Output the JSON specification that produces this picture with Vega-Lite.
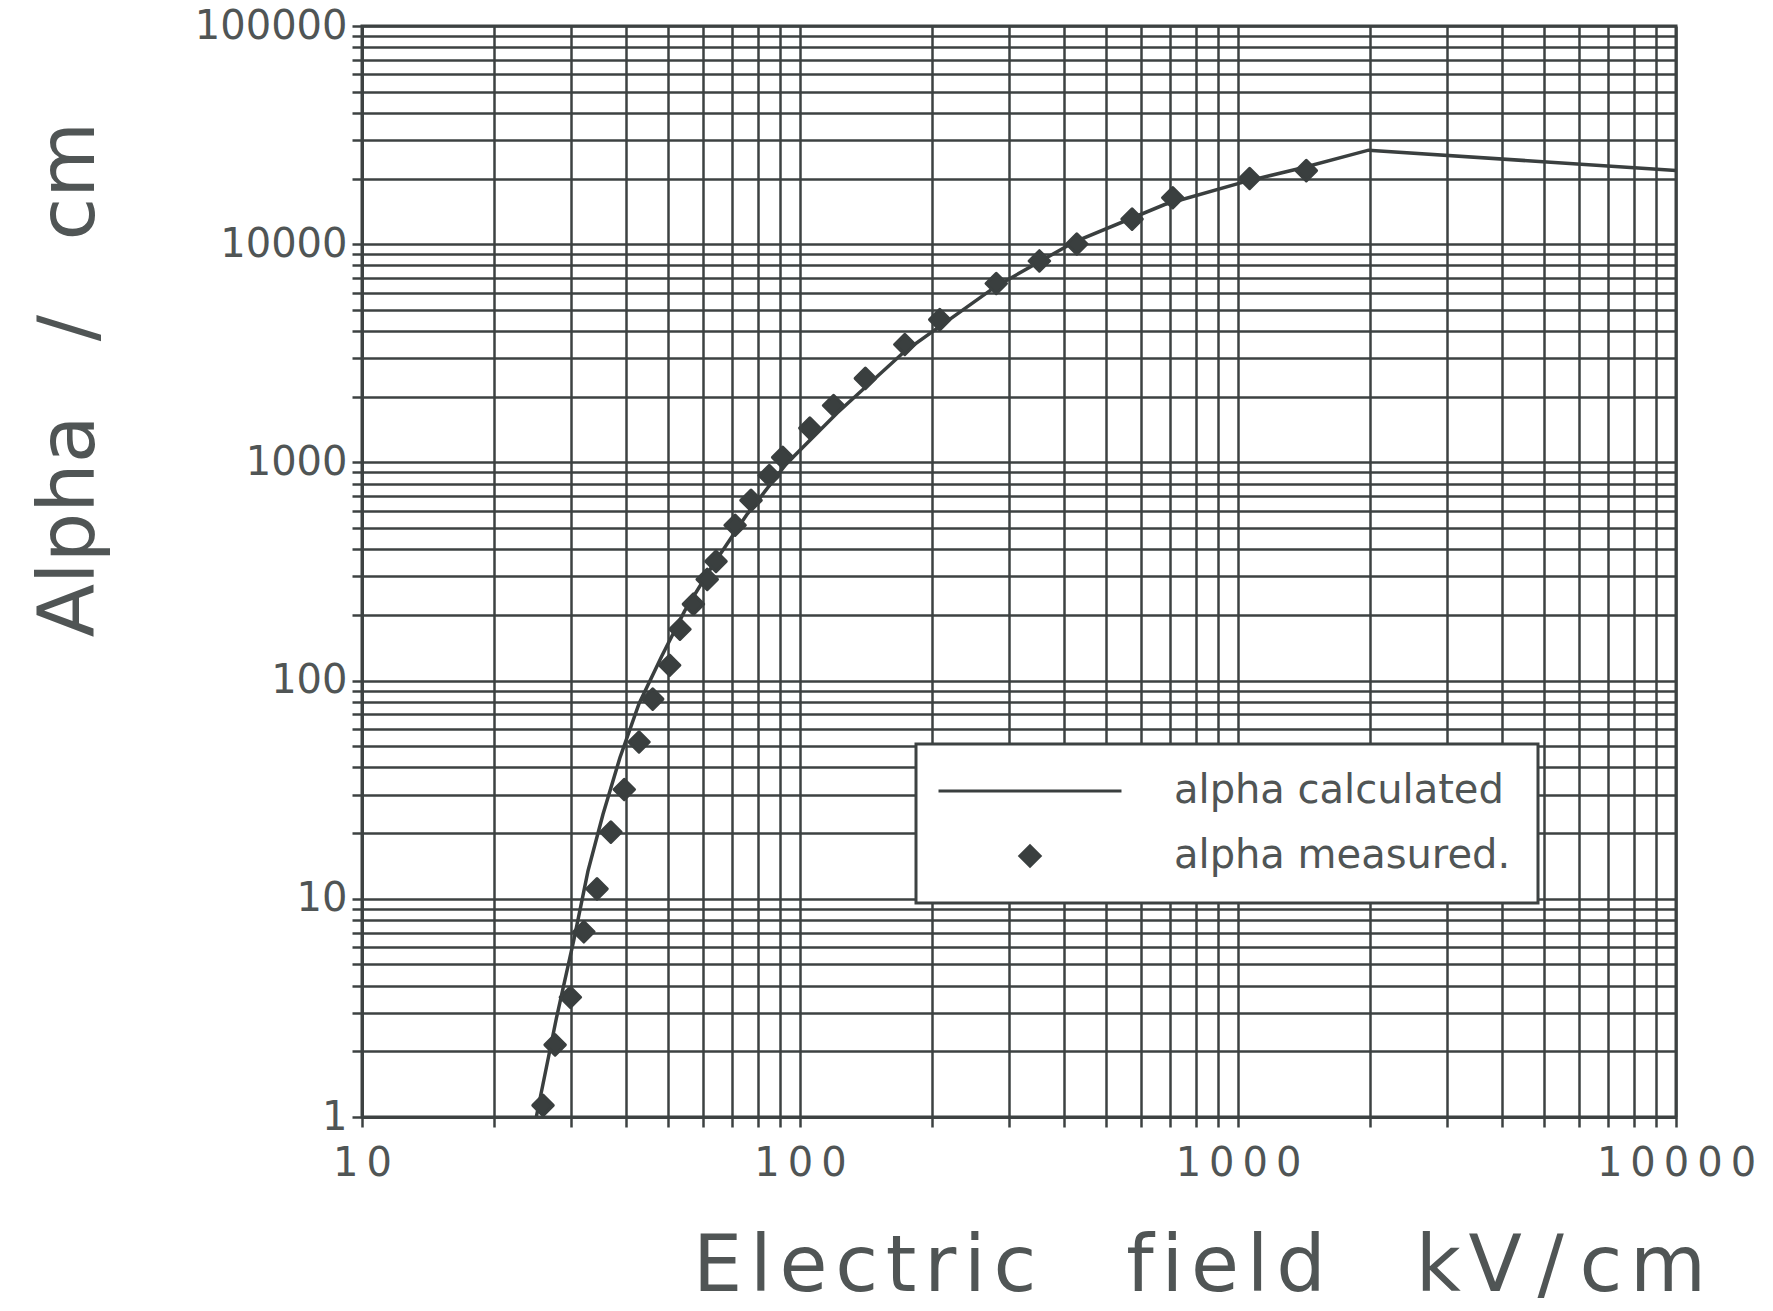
{
  "$schema": "https://vega.github.io/schema/vega-lite/v6.json",
  "width": 1314,
  "height": 1091,
  "autosize": {"type": "none"},
  "padding": {"left": 362, "top": 26, "right": 97, "bottom": 194},
  "background": "white",
  "config": {
    "view": {"stroke": "#3d4242", "strokeWidth": 3},
    "font": "DejaVu Sans",
    "legend": {"strokeWidth": 3}
  },
  "data": {
    "values": [
      {"series": "alpha calculated", "E": 25.0, "alpha": 1.0},
      {"series": "alpha calculated", "E": 27.8, "alpha": 2.85},
      {"series": "alpha calculated", "E": 30.5, "alpha": 6.57},
      {"series": "alpha calculated", "E": 32.8, "alpha": 13.4},
      {"series": "alpha calculated", "E": 35.5, "alpha": 24.4},
      {"series": "alpha calculated", "E": 38.8, "alpha": 44.3},
      {"series": "alpha calculated", "E": 42.9, "alpha": 78.4},
      {"series": "alpha calculated", "E": 48.3, "alpha": 129},
      {"series": "alpha calculated", "E": 54.5, "alpha": 208},
      {"series": "alpha calculated", "E": 63.1, "alpha": 336},
      {"series": "alpha calculated", "E": 75.5, "alpha": 574},
      {"series": "alpha calculated", "E": 92.9, "alpha": 981},
      {"series": "alpha calculated", "E": 121.4, "alpha": 1679},
      {"series": "alpha calculated", "E": 173.5, "alpha": 3230},
      {"series": "alpha calculated", "E": 279, "alpha": 6370},
      {"series": "alpha calculated", "E": 423.6, "alpha": 10260},
      {"series": "alpha calculated", "E": 680, "alpha": 15200},
      {"series": "alpha calculated", "E": 1033, "alpha": 19300},
      {"series": "alpha calculated", "E": 1390, "alpha": 22300},
      {"series": "alpha calculated", "E": 1986, "alpha": 26980},
      {"series": "alpha calculated", "E": 10000, "alpha": 21740},
      {"series": "alpha measured.", "E": 25.9, "alpha": 1.13},
      {"series": "alpha measured.", "E": 27.6, "alpha": 2.14},
      {"series": "alpha measured.", "E": 29.9, "alpha": 3.54},
      {"series": "alpha measured.", "E": 32.1, "alpha": 7.06},
      {"series": "alpha measured.", "E": 34.4, "alpha": 11.1},
      {"series": "alpha measured.", "E": 37.0, "alpha": 20.2},
      {"series": "alpha measured.", "E": 39.7, "alpha": 31.7},
      {"series": "alpha measured.", "E": 42.9, "alpha": 52.3},
      {"series": "alpha measured.", "E": 46.1, "alpha": 82.2},
      {"series": "alpha measured.", "E": 50.4, "alpha": 117.6},
      {"series": "alpha measured.", "E": 53.2, "alpha": 172},
      {"series": "alpha measured.", "E": 57.1, "alpha": 224},
      {"series": "alpha measured.", "E": 61.4, "alpha": 291},
      {"series": "alpha measured.", "E": 64.3, "alpha": 352},
      {"series": "alpha measured.", "E": 71.1, "alpha": 515},
      {"series": "alpha measured.", "E": 77.3, "alpha": 670},
      {"series": "alpha measured.", "E": 85.1, "alpha": 871},
      {"series": "alpha measured.", "E": 91.3, "alpha": 1055},
      {"series": "alpha measured.", "E": 105.3, "alpha": 1436},
      {"series": "alpha measured.", "E": 119.3, "alpha": 1823},
      {"series": "alpha measured.", "E": 141, "alpha": 2428},
      {"series": "alpha measured.", "E": 173.5, "alpha": 3470},
      {"series": "alpha measured.", "E": 208.5, "alpha": 4510},
      {"series": "alpha measured.", "E": 280.6, "alpha": 6606},
      {"series": "alpha measured.", "E": 352, "alpha": 8380},
      {"series": "alpha measured.", "E": 428.5, "alpha": 10020},
      {"series": "alpha measured.", "E": 573, "alpha": 13030},
      {"series": "alpha measured.", "E": 709.6, "alpha": 16330},
      {"series": "alpha measured.", "E": 1063, "alpha": 20000},
      {"series": "alpha measured.", "E": 1432, "alpha": 21740}
    ]
  },
  "encoding": {
    "x": {
      "field": "E", "type": "quantitative",
      "scale": {"type": "log", "domain": [10, 10000], "nice": false},
      "axis": {
        "title": "E\u200al\u200ae\u200ac\u200at\u200ar\u200ai\u200ac\u00a0\u00a0\u00a0\u2009f\u200ai\u200ae\u200al\u200ad\u00a0\u00a0\u00a0\u2009k\u200aV\u2009/\u2009c\u200am",
        "titleFontSize": 78, "titleFontWeight": "normal", "titleColor": "#505555",
        "titleX": 837, "titleY": 150, "titleAlign": "center", "titleBaseline": "middle",
        "values": [10,20,30,40,50,60,70,80,90,100,200,300,400,500,600,700,800,900,1000,2000,3000,4000,5000,6000,7000,8000,9000,10000],
        "labelExpr": "datum.value == 10 ? '1\u20090' : datum.value == 100 ? '1\u20090\u20090' : datum.value == 1000 ? '1\u20090\u20090\u20090' : datum.value == 10000 ? '1\u20090\u20090\u20090\u20090' : ''",
        "labelFontSize": 40, "labelColor": "#505555", "labelPadding": 16,
        "labelFlush": false, "labelOverlap": false,
        "tickSize": 10, "tickWidth": 2.5, "tickColor": "#3d4242",
        "domainColor": "#3d4242", "domainWidth": 3,
        "grid": true, "gridColor": "#3d4242", "gridWidth": 2.5, "gridOpacity": 1
      }
    },
    "y": {
      "field": "alpha", "type": "quantitative",
      "scale": {"type": "log", "domain": [1, 100000], "nice": false},
      "axis": {
        "title": "Alpha\u00a0\u00a0\u00a0/\u00a0\u00a0\u00a0cm",
        "titleFontSize": 78, "titleFontWeight": "normal", "titleColor": "#505555",
        "titleAngle": -90, "titleX": -292, "titleY": 353, "titleAlign": "center", "titleBaseline": "middle",
        "values": [1,2,3,4,5,6,7,8,9,10,20,30,40,50,60,70,80,90,100,200,300,400,500,600,700,800,900,1000,2000,3000,4000,5000,6000,7000,8000,9000,10000,20000,30000,40000,50000,60000,70000,80000,90000,100000],
        "labelExpr": "(datum.value == 1 || datum.value == 10 || datum.value == 100 || datum.value == 1000 || datum.value == 10000 || datum.value == 100000) ? format(datum.value, 'd') : ''",
        "labelFontSize": 40, "labelColor": "#505555", "labelPadding": 5,
        "labelFlush": false, "labelOverlap": false, "labelBaseline": "middle",
        "tickSize": 10, "tickWidth": 2.5, "tickColor": "#3d4242",
        "domainColor": "#3d4242", "domainWidth": 3,
        "grid": true, "gridColor": "#3d4242", "gridWidth": 2.5, "gridOpacity": 1
      }
    }
  },
  "layer": [
    {
      "transform": [{"filter": "datum.series == 'alpha calculated'"}],
      "mark": {"type": "line", "color": "#3a3f3f", "strokeWidth": 3.5},
      "encoding": {}
    },
    {
      "transform": [{"filter": "datum.series == 'alpha measured.'"}],
      "mark": {"type": "point", "filled": true, "fill": "#3a3f3f", "stroke": "#3a3f3f", "strokeWidth": 3, "strokeJoin": "round", "opacity": 1, "size": 420},
      "encoding": {
        "shape": {
          "field": "series", "type": "nominal",
          "scale": {"domain": ["alpha calculated", "alpha measured."], "range": ["M-7.47,-0.12H7.47V0.12H-7.47Z", "diamond"]},
          "legend": {
            "title": null, "orient": "none", "legendX": 554, "legendY": 718,
            "strokeColor": "#3d4242", "fillColor": "white",
            "padding": 27, "labelFontSize": 40, "labelColor": "#505555",
            "labelFont": "DejaVu Sans", "labelLimit": 600, "rowPadding": 25,
            "symbolSize": 600, "symbolOffset": 67, "labelOffset": 124,
            "symbolStrokeColor": "#3a3f3f", "symbolStrokeWidth": 3, "symbolFillColor": "#3a3f3f", "symbolOpacity": 1
          }
        }
      }
    }
  ]
}
